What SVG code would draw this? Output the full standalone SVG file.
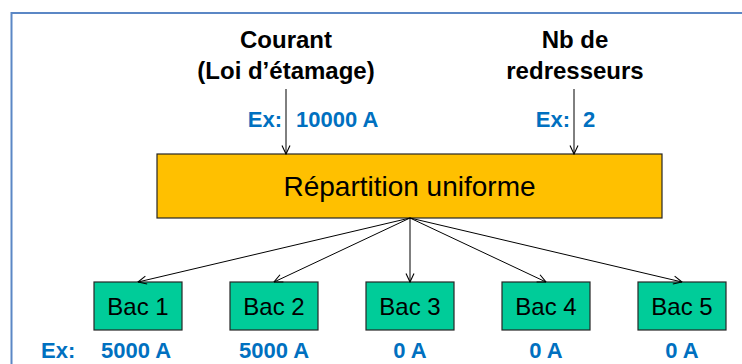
<svg xmlns="http://www.w3.org/2000/svg" width="742" height="364" viewBox="0 0 742 364">
<defs>
<marker id="arr" viewBox="0 0 10 10" refX="9.5" refY="5" markerWidth="10" markerHeight="10" markerUnits="userSpaceOnUse" orient="auto">
<path d="M1,1 L9.5,5 L1,9" fill="none" stroke="#000" stroke-width="1.1"/>
</marker>
</defs>
<style>
.title{font-family:"Liberation Sans",Arial,sans-serif;font-weight:bold;font-size:24px;fill:#000;text-anchor:middle}
.ex{font-family:"Liberation Sans",Arial,sans-serif;font-weight:bold;font-size:22px;fill:#0070C0}
.bac rect{fill:#00CC99;stroke:#262626;stroke-width:1.2}
.bac text{font-family:"Liberation Sans",Arial,sans-serif;font-size:24px;fill:#000;text-anchor:middle}
.conn line{stroke:#000;stroke-width:1;marker-end:url(#arr)}
</style>
<rect x="11.5" y="13" width="760" height="380" fill="#fff" stroke="#5B87C5" stroke-width="2"/>

<g id="courant">
<text class="title" x="286" y="48">Courant</text>
<text class="title" x="286" y="79">(Loi d’étamage)</text>
<text class="ex" x="282" y="127" text-anchor="end">Ex:</text>
<text class="ex" x="296" y="127">10000 A</text>
</g>
<g id="redresseurs">
<text class="title" x="575" y="48">Nb de</text>
<text class="title" x="575" y="79">redresseurs</text>
<text class="ex" x="570" y="127" text-anchor="end">Ex:</text>
<text class="ex" x="583" y="127">2</text>
</g>

<g id="repartition">
<rect x="157" y="154" width="505" height="64" fill="#FFC000" stroke="#262626" stroke-width="1.2"/>
<text x="409.5" y="196" font-family="'Liberation Sans',Arial,sans-serif" font-size="28" fill="#000" text-anchor="middle">Répartition uniforme</text>
</g>

<g id="bac1" class="bac"><rect x="94" y="282" width="88" height="48"/><text x="138" y="315">Bac 1</text></g>
<g id="bac2" class="bac"><rect x="230" y="282" width="88" height="48"/><text x="274" y="315">Bac 2</text></g>
<g id="bac3" class="bac"><rect x="366" y="282" width="88" height="48"/><text x="410" y="315">Bac 3</text></g>
<g id="bac4" class="bac"><rect x="502" y="282" width="88" height="48"/><text x="546" y="315">Bac 4</text></g>
<g id="bac5" class="bac"><rect x="638" y="282" width="88" height="48"/><text x="682" y="315">Bac 5</text></g>

<g id="values">
<text class="ex" x="41" y="358">Ex:</text>
<text class="ex" x="136" y="358" text-anchor="middle">5000 A</text>
<text class="ex" x="274" y="358" text-anchor="middle">5000 A</text>
<text class="ex" x="410" y="358" text-anchor="middle">0 A</text>
<text class="ex" x="546" y="358" text-anchor="middle">0 A</text>
<text class="ex" x="682" y="358" text-anchor="middle">0 A</text>
</g>

<g id="connectors" class="conn">
<line x1="286" y1="89" x2="286" y2="154"/>
<line x1="574" y1="89" x2="574" y2="154"/>
<line x1="410" y1="218" x2="138" y2="282"/>
<line x1="410" y1="218" x2="274" y2="282"/>
<line x1="410" y1="218" x2="410" y2="282"/>
<line x1="410" y1="218" x2="546" y2="282"/>
<line x1="410" y1="218" x2="682" y2="282"/>
</g>
</svg>
